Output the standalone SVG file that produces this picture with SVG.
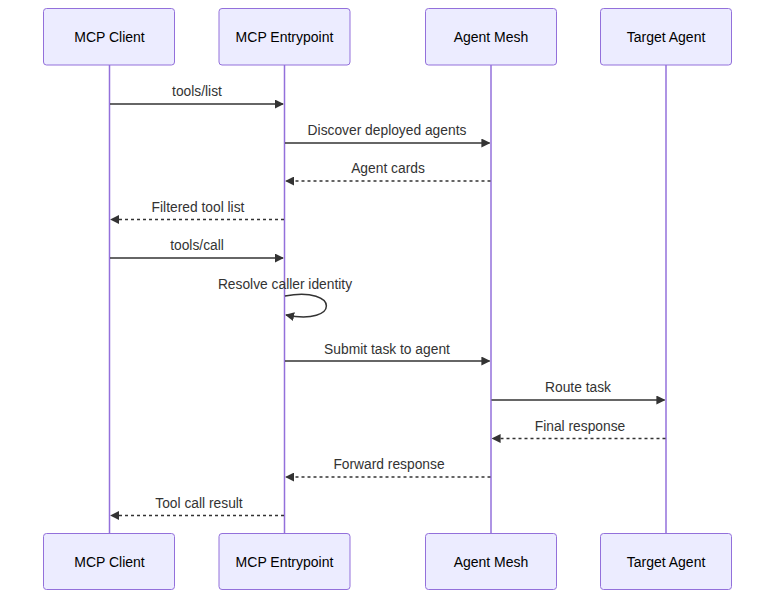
<svg xmlns="http://www.w3.org/2000/svg" width="784" height="607" viewBox="0 0 784 607">
<defs>
<style>
.actor{fill:#ECECFF;stroke:#9370DB;stroke-width:1}
.atext{font-family:"Liberation Sans",Arial,sans-serif;font-size:14px;fill:#000;text-anchor:middle;dominant-baseline:central}
.life{stroke:#9370DB;stroke-width:1.5;fill:none}
.msg{stroke:#333;stroke-width:1.5;fill:none}
.dash{stroke-dasharray:3,3}
.mtext{font-family:"Liberation Sans",Arial,sans-serif;font-size:13.8px;fill:#333;text-anchor:middle}
</style>
<marker id="ah" viewBox="0 0 10 10" refX="9" refY="5" markerWidth="9" markerHeight="9" markerUnits="userSpaceOnUse" orient="auto">
<path d="M0,0 L10,5 L0,10 z" fill="#333"/>
</marker>
</defs>
<rect width="784" height="607" fill="#fff"/>
<g id="lifelines">
<line class="life" x1="109.5" y1="65" x2="109.5" y2="533"/>
<line class="life" x1="284.5" y1="65" x2="284.5" y2="533"/>
<line class="life" x1="491" y1="65" x2="491" y2="533"/>
<line class="life" x1="666" y1="65" x2="666" y2="533"/>
</g>
<g id="mcp-client">
<rect class="actor" x="43.5" y="8.5" width="131" height="56.5" rx="3"/>
<text class="atext" x="109.5" y="37">MCP Client</text>
</g>
<g id="mcp-entrypoint">
<rect class="actor" x="219" y="8.5" width="131" height="56.5" rx="3"/>
<text class="atext" x="284.5" y="37">MCP Entrypoint</text>
</g>
<g id="agent-mesh">
<rect class="actor" x="425.5" y="8.5" width="131" height="56.5" rx="3"/>
<text class="atext" x="491" y="37">Agent Mesh</text>
</g>
<g id="target-agent">
<rect class="actor" x="600.5" y="8.5" width="131" height="56.5" rx="3"/>
<text class="atext" x="666" y="37">Target Agent</text>
</g>
<g id="mcp-client-bottom">
<rect class="actor" x="43.5" y="533.5" width="131" height="56" rx="3"/>
<text class="atext" x="109.5" y="562">MCP Client</text>
</g>
<g id="mcp-entrypoint-bottom">
<rect class="actor" x="219" y="533.5" width="131" height="56" rx="3"/>
<text class="atext" x="284.5" y="562">MCP Entrypoint</text>
</g>
<g id="agent-mesh-bottom">
<rect class="actor" x="425.5" y="533.5" width="131" height="56" rx="3"/>
<text class="atext" x="491" y="562">Agent Mesh</text>
</g>
<g id="target-agent-bottom">
<rect class="actor" x="600.5" y="533.5" width="131" height="56" rx="3"/>
<text class="atext" x="666" y="562">Target Agent</text>
</g>
<g id="connectors">
<line class="msg" x1="110" y1="104" x2="283" y2="104" marker-end="url(#ah)"/>
<text class="mtext" x="197" y="96">tools/list</text>
<line class="msg" x1="285" y1="143" x2="489.5" y2="143" marker-end="url(#ah)"/>
<text class="mtext" x="387" y="135">Discover deployed agents</text>
<line class="msg dash" x1="490.5" y1="181" x2="286" y2="181" marker-end="url(#ah)"/>
<text class="mtext" x="388" y="173">Agent cards</text>
<line class="msg dash" x1="284" y1="219.5" x2="111" y2="219.5" marker-end="url(#ah)"/>
<text class="mtext" x="198" y="212">Filtered tool list</text>
<line class="msg" x1="110" y1="258" x2="283" y2="258" marker-end="url(#ah)"/>
<text class="mtext" x="197" y="250">tools/call</text>
<path class="msg" d="M285,296 C340,286 340,326 286,315" marker-end="url(#ah)"/>
<text class="mtext" x="285" y="289">Resolve caller identity</text>
<line class="msg" x1="285" y1="361" x2="489.5" y2="361" marker-end="url(#ah)"/>
<text class="mtext" x="387" y="354">Submit task to agent</text>
<line class="msg" x1="491.5" y1="400" x2="664.5" y2="400" marker-end="url(#ah)"/>
<text class="mtext" x="578" y="392">Route task</text>
<line class="msg dash" x1="665.5" y1="438.5" x2="492.5" y2="438.5" marker-end="url(#ah)"/>
<text class="mtext" x="580" y="431">Final response</text>
<line class="msg dash" x1="490.5" y1="477" x2="286" y2="477" marker-end="url(#ah)"/>
<text class="mtext" x="389" y="469">Forward response</text>
<line class="msg dash" x1="284" y1="515.5" x2="111" y2="515.5" marker-end="url(#ah)"/>
<text class="mtext" x="199" y="508">Tool call result</text>
</g>
</svg>
